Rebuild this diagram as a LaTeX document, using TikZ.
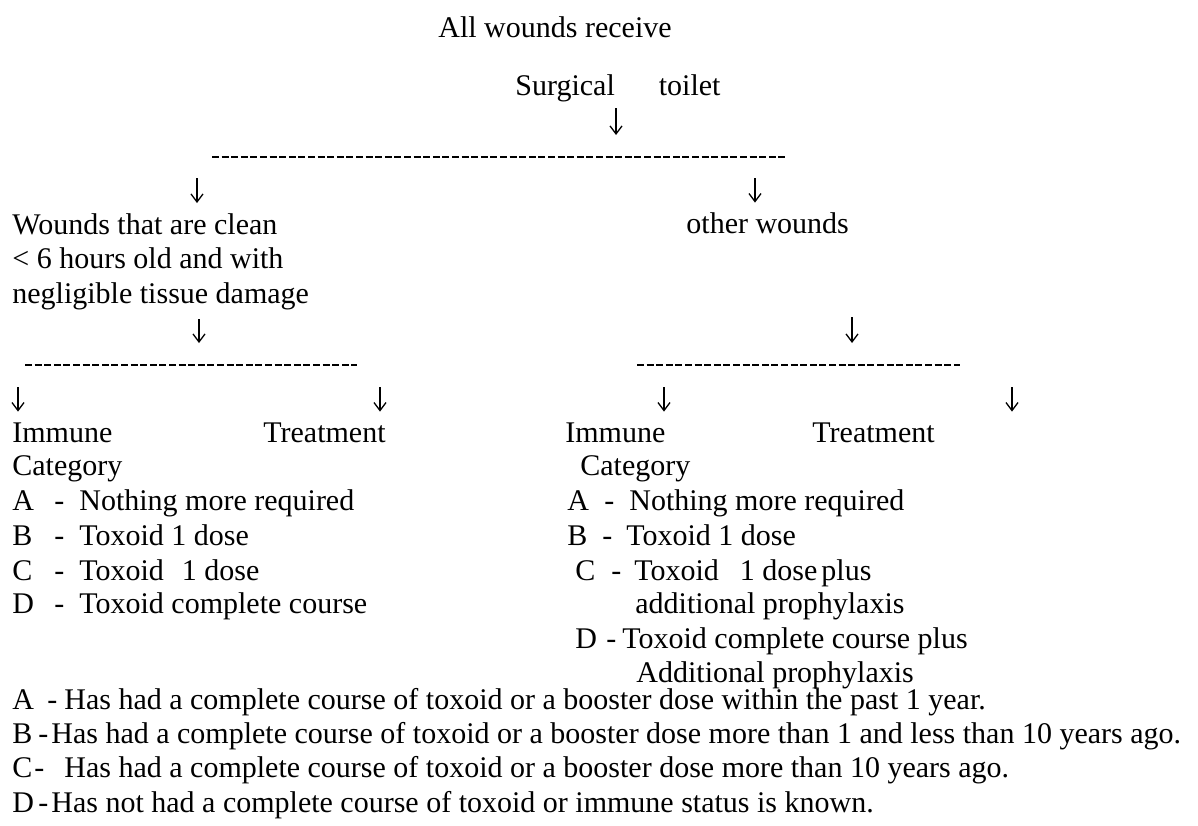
\documentclass[tikz,border=0pt]{standalone}
\usepackage{fontspec}
\setmainfont{Liberation Serif}
\usetikzlibrary{arrows.meta}

\newcommand\crow[4]{\makebox[#1pt][l]{#2}-\hspace{#3pt}#4}

\begin{document}
\begin{tikzpicture}[
  x=0.5pt, y=-0.5pt,
  font=\fontsize{15}{17.25}\selectfont,
  t/.style={anchor=base west, inner sep=0pt, text height=10pt, text depth=3pt},
  dn/.style={-{Straight Barb[length=4pt,width=6pt]}, line width=0.65pt},
  bar/.style={line width=0.75pt, dash pattern=on 3.5pt off 1.3pt}]

\useasboundingbox (0,0) rectangle (1198,825);

\node[t] (allw) at (438,37) {All wounds receive};
\node[t] (toilet) at (515,95) {Surgical\hspace{22pt}toilet};

\coordinate (bar1w) at (212,157);
\coordinate (bar1e) at (787,157);
\coordinate (j1) at (616,157);
\coordinate (j2) at (197,157);
\coordinate (j3) at (755,157);
\draw[bar] (bar1w) -- (bar1e);

\node[anchor=north west, inner sep=0pt, align=left] (clean) at (12,213)
  {Wounds that are clean\\< 6 hours old and with\\negligible tissue damage};
\node[t] (other) at (686,233) {other wounds};

\coordinate (bar2lw) at (25,365);
\coordinate (bar2le) at (357,365);
\coordinate (bar2rw) at (637,365);
\coordinate (bar2re) at (960,365);
\coordinate (j4) at (199,365);
\coordinate (j5) at (852,365);
\coordinate (j6) at (18,365);
\coordinate (j7) at (380,365);
\coordinate (j8) at (664,365);
\coordinate (j9) at (1012,365);
\draw[bar] (bar2lw) -- (bar2le);
\draw[bar] (bar2rw) -- (bar2re);

\node[t] (imL) at (12,442) {Immune};
\node[t] (trL) at (263,442) {Treatment};
\node[t] (catL) at (12,475) {Category};
\node[t] (aL) at (12,510) {\crow{21}{A}{7.5}{Nothing more required}};
\node[t] (bL) at (12,545) {\crow{21}{B}{7.5}{Toxoid 1 dose}};
\node[t] (cL) at (12,580) {\crow{21}{C}{7.5}{Toxoid\hspace{9pt}1 dose}};
\node[t] (dL) at (12,613) {\crow{21}{D}{7.5}{Toxoid complete course}};

\node[t] (imR) at (565,442) {Immune};
\node[t] (trR) at (812,442) {Treatment};
\node[t] (catR) at (580,475) {Category};
\node[t] (aR) at (567,510) {\crow{18.5}{A}{7.5}{Nothing more required}};
\node[t] (bR) at (567,545) {\crow{17.5}{B}{7}{Toxoid 1 dose}};
\node[t] (cR) at (575,580) {\crow{18}{C}{6.5}{Toxoid\hspace{10.5pt}1 dose\hspace{2pt}plus}};
\node[t] (cR2) at (635,613) {additional prophylaxis};
\node[t] (dR) at (575,648) {\crow{15.5}{D}{3}{Toxoid complete course plus}};
\node[t] (dR2) at (636,682) {Additional prophylaxis};

\node[t] (la) at (12,709) {\crow{17.5}{A}{3.5}{Has had a complete course of toxoid or a booster dose within the past 1 year.}};
\node[t] (lb) at (12,743) {\crow{13}{B}{1.5}{Has had a complete course of toxoid or a booster dose more than 1 and less than 10 years ago.}};
\node[t] (lc) at (12,777) {\crow{11}{C}{10}{Has had a complete course of toxoid or a booster dose more than 10 years ago.}};
\node[t] (ld) at (12,812) {\crow{13}{D}{1.5}{Has not had a complete course of toxoid or immune status is known.}};

\draw[dn, shorten <=3.5pt, shorten >=11pt] (toilet.south -| j1) -- (j1);
\draw[dn, shorten <=10.5pt, shorten >=5pt] (j2) -- (j2 |- clean.north);
\draw[dn, shorten <=10.5pt, shorten >=5pt] (j3) -- (j3 |- other.north);
\draw[dn, shorten <=4.5pt, shorten >=11pt] (j4 |- clean.south) -- (j4);
\draw[dn, shorten <=39pt, shorten >=11pt] (j5 |- other.south) -- (j5);
\draw[dn, shorten <=11pt, shorten >=5pt] (j6) -- (j6 |- imL.north);
\draw[dn, shorten <=11pt, shorten >=5pt] (j7) -- (j7 |- trL.north);
\draw[dn, shorten <=11pt, shorten >=5pt] (j8) -- (j8 |- imR.north);
\draw[dn, shorten <=11pt, shorten >=5pt] (j9) -- (j9 |- imR.north);
\end{tikzpicture}
\end{document}
